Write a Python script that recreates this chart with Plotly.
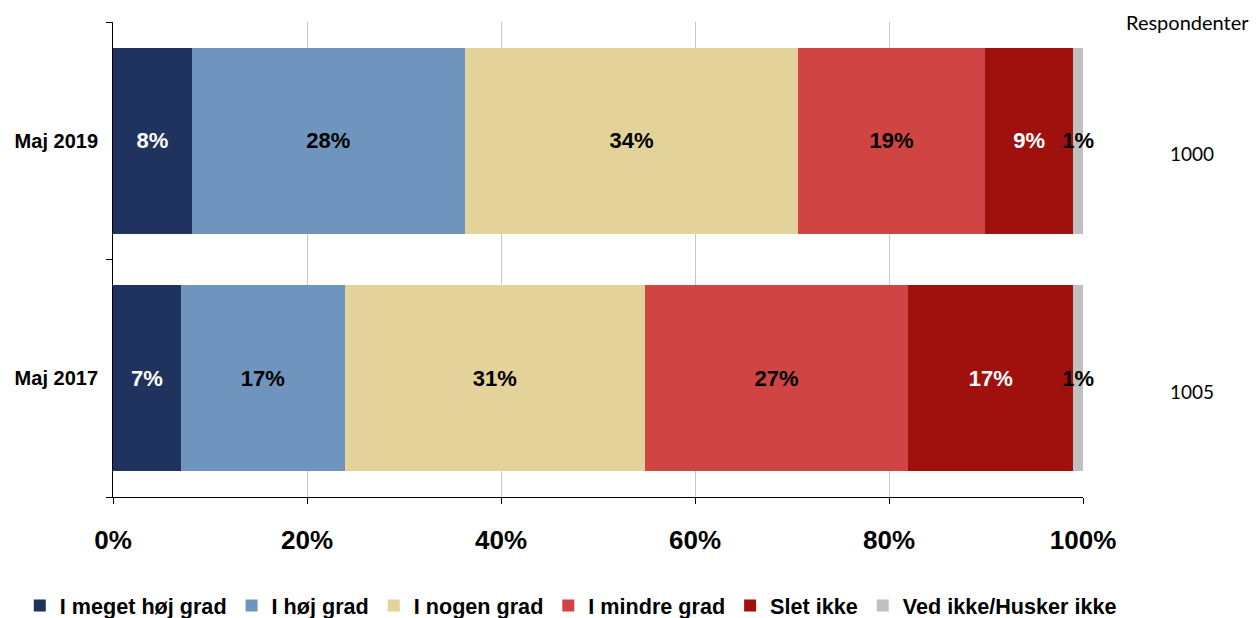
import plotly.graph_objects as go

categories = ["Maj 2017", "Maj 2019"]
series_names = ["I meget høj grad", "I høj grad", "I nogen grad", "I mindre grad", "Slet ikke", "Ved ikke/Husker ikke"]
values = {
    "I meget høj grad": [7.0, 8.1],
    "I høj grad": [16.9, 28.2],
    "I nogen grad": [30.9, 34.3],
    "I mindre grad": [27.2, 19.3],
    "Slet ikke": [17.0, 9.1],
    "Ved ikke/Husker ikke": [1.0, 1.0],
}
respondents = [1005, 1000]
x_ticks = [0, 20, 40, 60, 80, 100]

colors = ["#20335E", "#6F95BF", "#E3D29A", "#D04444", "#A0100D", "#C0C0C0"]
text_colors = ["white", "black", "black", "black", "white", "black"]

FONT = "Liberation Sans, Arial, sans-serif"

fig = go.Figure()
for name, col, tcol in zip(series_names, colors, text_colors):
    vals = values[name]
    fig.add_trace(go.Bar(
        y=categories, x=vals, name=name, orientation="h",
        marker=dict(color=col, line=dict(width=0)),
        text=[f"{round(v)}%" for v in vals],
        textposition="inside", insidetextanchor="middle",
        constraintext="none", textangle=0, cliponaxis=False,
        textfont=dict(family=FONT, size=22, color=tcol, weight="bold"),
        hoverinfo="skip",
    ))

for cat, r in zip(categories, respondents):
    fig.add_annotation(x=1.1124, xref="paper", xanchor="center", y=cat, yref="y", yshift=-13,
                       text=str(r), showarrow=False,
                       font=dict(family="Lato, sans-serif", size=19, color="black"))
fig.add_annotation(x=1.0, xref="paper", y=1.0, yref="paper", xshift=168, yshift=0,
                   xanchor="right", yanchor="middle",
                   text="Respondenter", showarrow=False,
                   font=dict(family="Lato, sans-serif", size=20, color="black"))

fig.update_layout(
    barmode="stack", bargap=0.215,
    width=1252, height=610,
    margin=dict(l=105, r=177, t=14, b=121, autoexpand=False),
    plot_bgcolor="white", paper_bgcolor="white",
    font=dict(family=FONT, color="black"),
    showlegend=True,
    legend=dict(orientation="h", x=1.04, xanchor="right",
                y=-0.2295, yanchor="middle",
                font=dict(family=FONT, size=21.6, color="black", weight="bold"),
                traceorder="normal", itemwidth=30, tracegroupgap=0),
    xaxis=dict(range=[0, 100], tickvals=x_ticks, ticktext=[f"{t}%" for t in x_ticks],
               showgrid=True, gridcolor="#C8C8C8", gridwidth=1,
               showline=True, linecolor="black", linewidth=1,
               ticks="outside", ticklen=6, tickcolor="black",
               ticklabelstandoff=14, automargin=False,
               tickfont=dict(family=FONT, size=26, weight="bold"),
               zeroline=False, fixedrange=True),
    yaxis=dict(range=[-0.5, 1.5], tickson="boundaries",
               showline=True, linecolor="black", linewidth=1,
               ticks="outside", ticklen=6, tickcolor="black",
               ticklabelstandoff=10, automargin=False,
               showgrid=False,
               tickfont=dict(family=FONT, size=20, weight="bold"),
               fixedrange=True),
)

fig.write_html("out.html")
